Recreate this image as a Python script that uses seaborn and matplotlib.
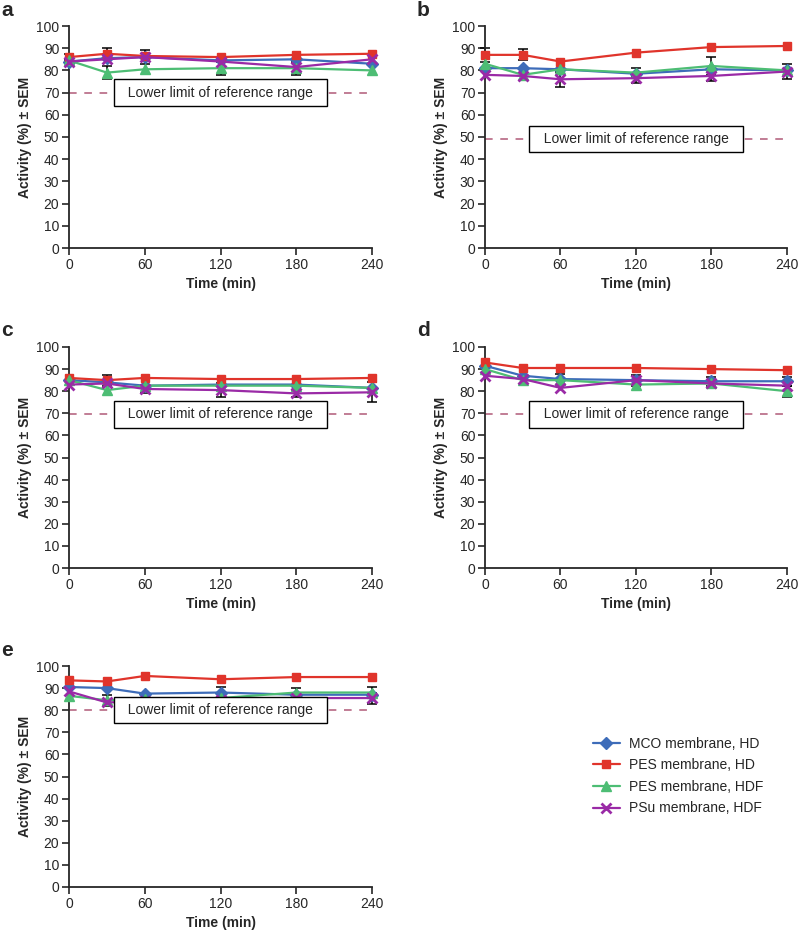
import numpy as np
import pandas as pd
import seaborn as sns
import matplotlib.pyplot as plt

sns.set_style("ticks")
plt.rcParams['font.family'] = ['Liberation Sans', 'DejaVu Sans']

# Datos
tiempos = [0, 30, 60, 120, 180, 240]
membranas = ["MCO membrane, HD", "PES membrane, HD", "PES membrane, HDF", "PSu membrane, HDF"]
colores = ["#3d6cb9", "#e0342b", "#4dbd74", "#9a2aa6"]
marcadores = ["D", "s", "^", "x"]
paneles = ["a", "b", "c", "d", "e"]
limite_inferior = [70, 49, 69.5, 69.5, 80]

# actividad (%) por panel: MCO HD, PES HD, PES HDF, PSu HDF
act_a = [[84, 85.5, 86, 84.5, 85, 83],
         [86, 87.5, 86.5, 86, 87, 87.5],
         [84.5, 79, 80.5, 81, 81, 80],
         [84, 85, 86, 84, 81.5, 85]]
act_b = [[81, 81, 80.5, 78.5, 80.5, 80],
         [87, 87, 84, 88, 90.5, 91],
         [83, 78, 80.5, 79, 82, 80],
         [78, 77.5, 76, 76.5, 77.5, 79.5]]
act_c = [[85, 84, 82.5, 83, 83, 81.5],
         [86, 85, 86, 85.5, 85.5, 86],
         [85, 80.5, 82.5, 82.5, 82.5, 81.5],
         [83, 83.5, 81, 80.5, 79, 79.5]]
act_d = [[91.5, 87, 85.5, 85, 84.5, 84.5],
         [93, 90.5, 90.5, 90.5, 90, 89.5],
         [90, 85, 85, 83, 83.5, 80],
         [87, 85.5, 81.5, 85, 83.5, 82.5]]
act_e = [[90.5, 90, 87.5, 88, 87, 87],
         [93.5, 93, 95.5, 94, 95, 95],
         [86.5, 84.5, 85, 85.5, 88, 88],
         [88.5, 83.5, 84, 84.5, 85.5, 85.5]]

# SEM (0 = barra oculta por el marcador)
sem_a = [[0, 0, 3, 0, 0, 0],
         [1.5, 2.5, 0, 0, 0, 0],
         [0, 3, 0, 3, 3, 0],
         [0, 0, 0, 0, 0, 0]]
sem_b = [[0, 0, 0, 0, 0, 0],
         [3, 2.5, 0, 0, 0, 0],
         [0, 0, 0, 2, 4, 0],
         [0, 0, 3.5, 2, 2.5, 3.5]]
sem_c = [[0, 0, 0, 0, 0, 0],
         [0, 2.5, 0, 0, 0, 0],
         [0, 0, 0, 0, 0, 0],
         [0, 0, 2, 3, 1.5, 4.5]]
sem_d = [[0, 0, 2.5, 0, 2, 2],
         [0, 0, 0, 0, 0, 0],
         [0, 0, 0, 0, 0, 2.5],
         [0, 0, 0, 2.5, 0, 0]]
sem_e = [[0, 0, 0, 2.5, 0, 0],
         [0, 0, 0, 0, 0, 0],
         [0, 2.5, 0, 0, 2, 2.5],
         [0, 0, 0, 3, 1.5, 2.5]]

actividades = [act_a, act_b, act_c, act_d, act_e]
sems = [sem_a, sem_b, sem_c, sem_d, sem_e]

W, H = 799, 932
fig = plt.figure(figsize=(W / 100, H / 100), dpi=100)

# posiciones en pixeles (izq, der, arriba, abajo)
cajas = [(69, 372, 26, 248), (485, 787, 26, 248),
         (69, 372, 347, 568), (485, 787, 347, 568),
         (69, 372, 666, 887)]

handles = None
for p, (letra, caja) in enumerate(zip(paneles, cajas)):
    l, r, t, b = caja
    ax = fig.add_axes([l / W, 1 - b / H, (r - l) / W, (b - t) / H])

    ax.axhline(limite_inferior[p], color="#b05a78", linestyle=(0, (5, 5)), linewidth=1.1, zorder=1)
    ax.text(120, limite_inferior[p], "  Lower limit of reference range  ", ha="center", va="center",
            fontsize=10, zorder=6,
            bbox=dict(boxstyle="square,pad=0.45", facecolor="white", edgecolor="black", linewidth=1))

    for i, nombre in enumerate(membranas):
        vals = np.array(actividades[p][i])
        err = np.array(sems[p][i])
        m = err > 0
        if m.any():
            ax.errorbar(np.array(tiempos)[m], vals[m], yerr=err[m], fmt="none", ecolor="black",
                        elinewidth=1.1, capsize=3.5, capthick=1.1, zorder=2, clip_on=False)
        sns.lineplot(x=tiempos, y=vals, ax=ax, color=colores[i], marker=marcadores[i],
                     markersize=7 if marcadores[i] in ("^", "x") else 6,
                     markeredgecolor=colores[i], markeredgewidth=2 if marcadores[i] == "x" else 1,
                     linewidth=1.6, label=nombre, clip_on=False, zorder=3 + i * 0.1)

    if handles is None:
        handles, labels = ax.get_legend_handles_labels()
    ax.get_legend().remove()

    ax.set_xlim(0, 240)
    ax.set_ylim(0, 100)
    ax.set_xticks([0, 60, 120, 180, 240])
    ax.set_yticks(range(0, 101, 10))
    ax.tick_params(labelsize=10, length=5, width=1.2, direction="out", pad=2)
    for s in ["left", "bottom"]:
        ax.spines[s].set_linewidth(1.3)
    sns.despine(ax=ax)
    ax.set_xlabel("Time (min)", fontsize=10, fontweight="bold", labelpad=4)
    ax.set_ylabel("Activity (%) ± SEM", fontsize=10, fontweight="bold", labelpad=3)

    # letra del panel
    fig.text((1 if l < 400 else 417) / W, 1 - (t - 16) / H, letra, fontsize=15,
             fontweight="bold", ha="left", va="center")

fig.legend(handles, labels, loc="upper left", bbox_to_anchor=(580 / W, 1 - 724 / H),
           frameon=False, fontsize=10, handlelength=2, handletextpad=0.6, labelspacing=0.55)

plt.savefig("out.png", dpi=100)
